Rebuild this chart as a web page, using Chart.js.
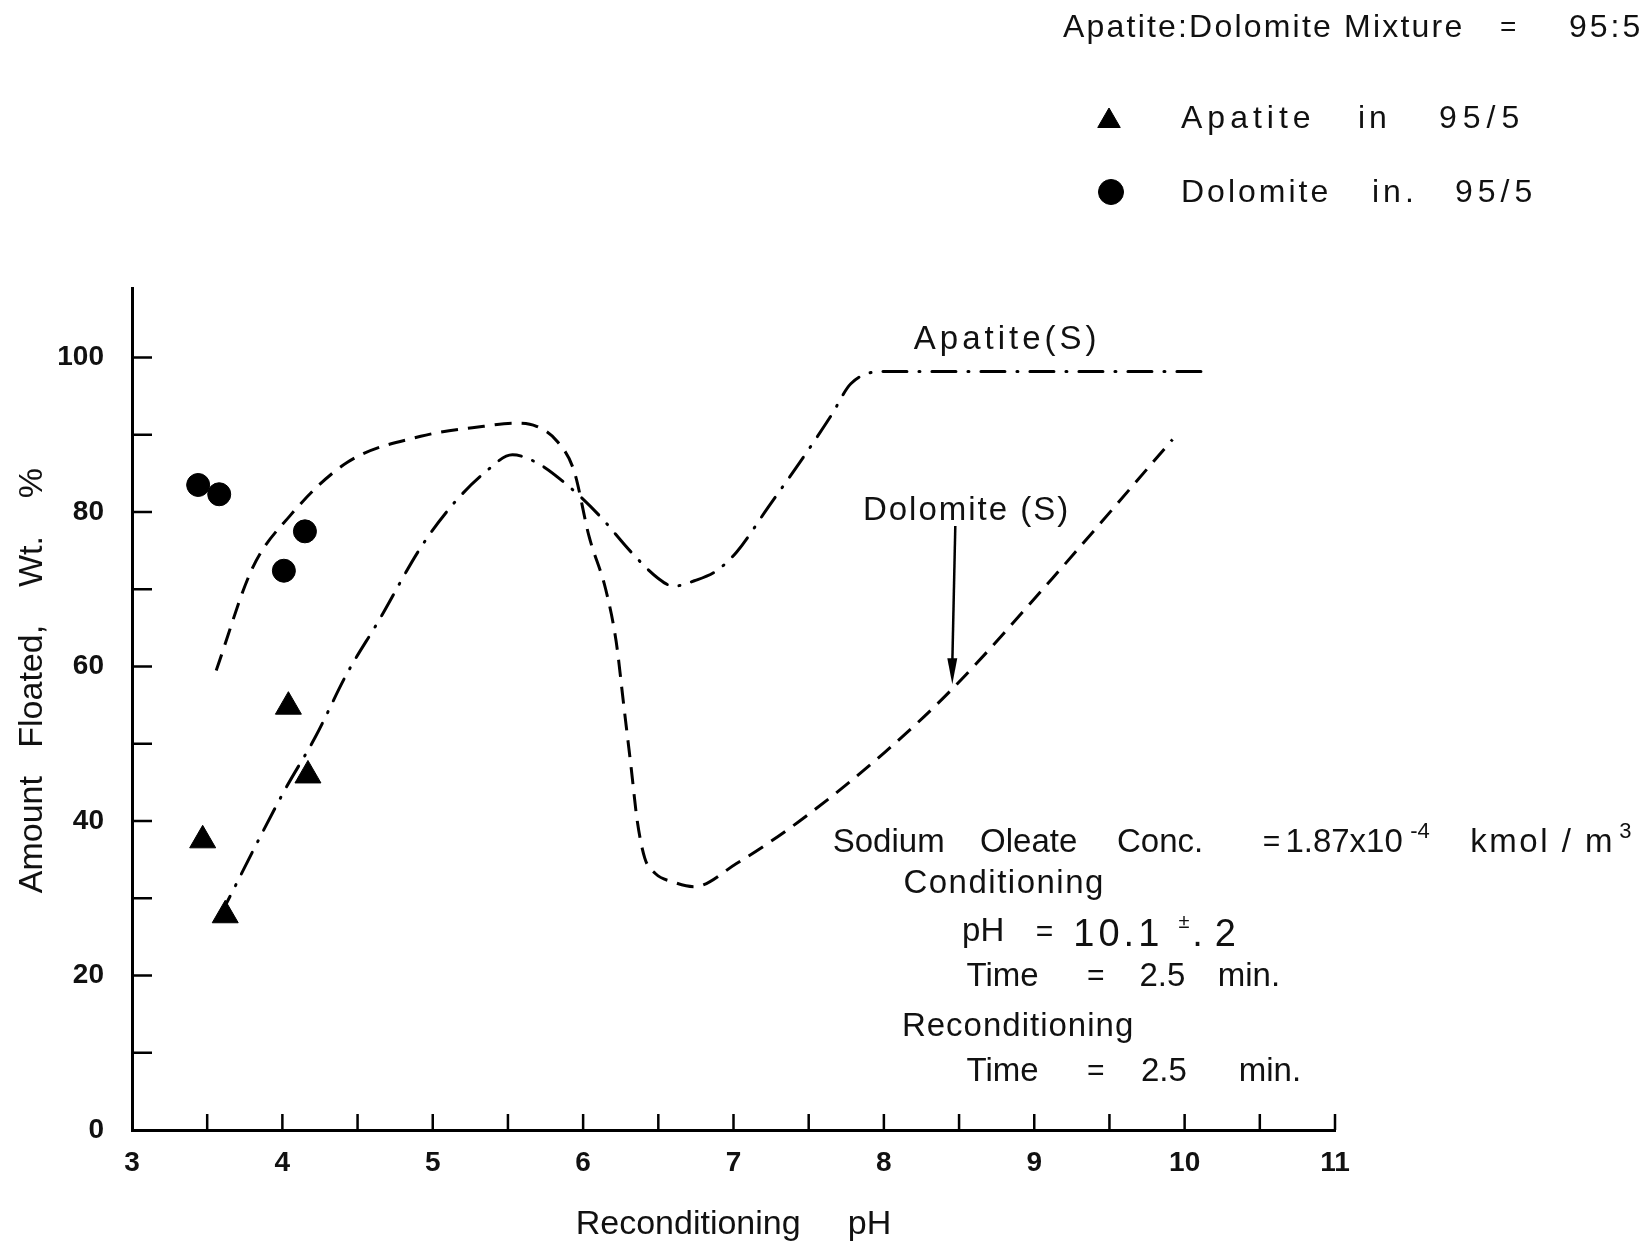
<!DOCTYPE html>
<html lang="en">
<head>
<meta charset="UTF-8">
<title>Amount floated vs reconditioning pH - Apatite:Dolomite 95:5</title>
<style>
  html, body { margin: 0; padding: 0; background: #fff; }
  #wrap { width: 1651px; height: 1245px; }
</style>
</head>
<body>
<div id="wrap"><canvas id="myChart" width="1651" height="1245" role="img" aria-label="Amount floated versus reconditioning pH"></canvas></div>

<script src="https://cdn.jsdelivr.net/npm/chart.js@4.4.1/dist/chart.umd.min.js"></script>
<script>
    // --- data ---
    var apatiteMixPH   = [3.47, 3.62, 4.04, 4.17];
    var apatiteMixPct  = [37.5, 27.8, 54.8, 45.9];
    var dolomiteMixPH  = [3.44, 3.58, 4.01, 4.15];
    var dolomiteMixPct = [83.5, 82.3, 72.4, 77.5];

    var apatiteSinglePH  = [3.58, 4.01, 4.22, 4.43, 4.64, 4.92, 5.13, 5.34, 5.53, 5.69, 5.90, 6.11, 6.32, 6.50, 6.60, 6.74, 6.88, 7.02, 7.23, 7.44, 7.65, 7.78, 8.00, 10.12];
    var apatiteSinglePct = [27.5, 43.8, 50.9, 59.1, 65.9, 75.4, 80.9, 85.0, 87.4, 86.4, 83.4, 79.5, 74.8, 71.4, 70.4, 71.1, 72.3, 74.8, 80.6, 86.4, 92.5, 96.6, 98.2, 98.2];

    var dolomiteSinglePH  = [3.56, 3.80, 4.05, 4.43, 4.92, 5.34, 5.55, 5.69, 5.83, 5.94, 6.04, 6.15, 6.22, 6.27, 6.32, 6.36, 6.41, 6.48, 6.60, 6.74, 7.02, 7.44, 8.00, 8.45, 9.12, 9.92];
    var dolomiteSinglePct = [59.5, 72.7, 79.5, 86.4, 89.8, 91.1, 91.5, 91.1, 89.1, 85.3, 76.8, 70.0, 63.2, 55.0, 46.8, 40.0, 35.2, 33.2, 32.1, 31.5, 34.5, 40.0, 48.8, 57.0, 71.4, 89.4];

    var xTickLabels = [3, 4, 5, 6, 7, 8, 9, 10, 11];
    var yTickLabels = [0, 20, 40, 60, 80, 100];

    function pts(xs, ys) {
        return xs.map(function (x, i) { return { x: x, y: ys[i] }; });
    }

    var FONT = '"Liberation Sans", Arial, sans-serif';
    var INK = '#111';

    // in-plot notes, positioned in data units
    var plotNotes = [
        { t: 'Apatite(S)', x: 8.82, y: 102.3, size: 33, sp: 4, align: 'center' },
        { t: 'Dolomite (S)', x: 8.55, y: 80.2, size: 33, sp: 2, align: 'center' },
        { t: 'Sodium', x: 7.66, y: 37.2, size: 33 },
        { t: 'Oleate', x: 8.64, y: 37.2, size: 33 },
        { t: 'Conc.', x: 9.55, y: 37.2, size: 33 },
        { t: '=', x: 10.52, y: 37.2, size: 30 },
        { t: '1.87x10', x: 10.67, y: 37.2, size: 33 },
        { t: '-4', x: 11.50, y: 38.6, size: 22 },
        { t: 'kmol / m', x: 11.90, y: 37.2, size: 33, sp: 2.5 },
        { t: '3', x: 12.89, y: 38.6, size: 22 },
        { t: 'Conditioning', x: 8.13, y: 31.8, size: 33, sp: 1.5 },
        { t: 'pH', x: 8.52, y: 25.6, size: 33 },
        { t: '=', x: 9.01, y: 25.6, size: 30 },
        { t: '10.1', x: 9.26, y: 25.2, size: 38, sp: 4 },
        { t: '\u00b1', x: 9.96, y: 26.8, size: 20 },
        { t: '.2', x: 10.05, y: 25.2, size: 38, sp: 12 },
        { t: 'Time', x: 8.55, y: 19.8, size: 33 },
        { t: '=', x: 9.35, y: 19.8, size: 30 },
        { t: '2.5', x: 9.70, y: 19.8, size: 33 },
        { t: 'min.', x: 10.22, y: 19.8, size: 33 },
        { t: 'Reconditioning', x: 8.12, y: 13.4, size: 33, sp: 1 },
        { t: 'Time', x: 8.55, y: 7.5, size: 33 },
        { t: '=', x: 9.35, y: 7.5, size: 30 },
        { t: '2.5', x: 9.71, y: 7.5, size: 33 },
        { t: 'min.', x: 10.36, y: 7.5, size: 33 }
    ];

    // header / key, positioned in page pixels
    var keyNotes = [
        { t: 'Apatite:Dolomite Mixture', x: 1063, y: 28, size: 32, sp: 2.2 },
        { t: '=', x: 1500, y: 28, size: 28 },
        { t: '95:5', x: 1569, y: 28, size: 32, sp: 3 },
        { t: 'Apatite', x: 1181, y: 119, size: 32, sp: 5 },
        { t: 'in', x: 1358, y: 119, size: 32, sp: 4 },
        { t: '95/5', x: 1439, y: 119, size: 32, sp: 6 },
        { t: 'Dolomite', x: 1181, y: 193, size: 32, sp: 3 },
        { t: 'in.', x: 1372, y: 193, size: 32, sp: 4 },
        { t: '95/5', x: 1455, y: 193, size: 32, sp: 5 }
    ];
    var keyMarkers = [
        { ds: 0, x: 1109, y: 121, r: 13 },
        { ds: 1, x: 1111, y: 192, r: 12.5 }
    ];

    function drawText(ctx, n, x, y) {
        ctx.save();
        ctx.font = (n.weight || 'normal') + ' ' + n.size + 'px ' + FONT;
        ctx.letterSpacing = (n.sp || 0) + 'px';
        ctx.textAlign = n.align || 'left';
        ctx.textBaseline = 'middle';
        ctx.fillStyle = INK;
        ctx.fillText(n.t, x, y);
        ctx.restore();
    }

    var figurePlugin = {
        id: 'figure',
        afterDraw: function (chart) {
            var ctx = chart.ctx, xs = chart.scales.x, ys = chart.scales.y, a = chart.chartArea;

            // inward tick marks
            ctx.save();
            ctx.strokeStyle = '#000';
            ctx.lineWidth = 2.5;
            ctx.beginPath();
            xs.ticks.forEach(function (t) {
                if (t.value <= xs.min) return;
                var px = xs.getPixelForValue(t.value);
                ctx.moveTo(px, a.bottom);
                ctx.lineTo(px, a.bottom - 16);
            });
            ys.ticks.forEach(function (t) {
                if (t.value <= ys.min) return;
                var py = ys.getPixelForValue(t.value);
                ctx.moveTo(a.left, py);
                ctx.lineTo(a.left + 20, py);
            });
            ctx.stroke();

            // arrow from "Dolomite (S)" down to its curve
            var x0 = xs.getPixelForValue(8.475), y0 = ys.getPixelForValue(78.2);
            var x1 = xs.getPixelForValue(8.455), y1 = ys.getPixelForValue(57.7);
            ctx.lineWidth = 2.5;
            ctx.beginPath();
            ctx.moveTo(x0, y0);
            ctx.lineTo(x1, y1 - 20);
            ctx.stroke();
            ctx.fillStyle = '#000';
            ctx.beginPath();
            ctx.moveTo(x1, y1);
            ctx.lineTo(x1 - 5, y1 - 26);
            ctx.lineTo(x1 + 5, y1 - 26);
            ctx.closePath();
            ctx.fill();
            ctx.restore();

            plotNotes.forEach(function (n) {
                drawText(ctx, n, xs.getPixelForValue(n.x), ys.getPixelForValue(n.y));
            });
            keyNotes.forEach(function (n) { drawText(ctx, n, n.x, n.y); });

            // key markers use the dataset point styles
            keyMarkers.forEach(function (m) {
                var ds = chart.data.datasets[m.ds];
                ctx.save();
                ctx.fillStyle = ds.backgroundColor;
                ctx.strokeStyle = ds.borderColor;
                ctx.lineWidth = 1;
                Chart.helpers.drawPoint(ctx, { pointStyle: ds.pointStyle, radius: m.r, rotation: 0, borderWidth: 1 }, m.x, m.y);
                ctx.restore();
            });
        }
    };

    function createChart() {
        var ctx = document.getElementById('myChart').getContext('2d');
        new Chart(ctx, {
            type: 'scatter',
            data: {
                datasets: [
                    {
                        label: 'Apatite in 95/5',
                        data: pts(apatiteMixPH, apatiteMixPct),
                        pointStyle: 'triangle',
                        pointRadius: 15,
                        backgroundColor: '#000',
                        borderColor: '#000',
                        borderWidth: 1
                    },
                    {
                        label: 'Dolomite in 95/5',
                        data: pts(dolomiteMixPH, dolomiteMixPct),
                        pointStyle: 'circle',
                        pointRadius: 11.5,
                        backgroundColor: '#000',
                        borderColor: '#000',
                        borderWidth: 1
                    },
                    {
                        label: 'Apatite(S)',
                        data: pts(apatiteSinglePH, apatiteSinglePct),
                        showLine: true,
                        pointRadius: 0,
                        borderColor: '#000',
                        borderWidth: 3,
                        borderDash: [24, 12, 1, 12],
                        borderCapStyle: 'round',
                        cubicInterpolationMode: 'monotone'
                    },
                    {
                        label: 'Dolomite(S)',
                        data: pts(dolomiteSinglePH, dolomiteSinglePct),
                        showLine: true,
                        pointRadius: 0,
                        borderColor: '#000',
                        borderWidth: 3,
                        borderDash: [17, 10],
                        cubicInterpolationMode: 'monotone'
                    }
                ]
            },
            options: {
                responsive: false,
                animation: false,
                layout: { padding: { top: 288, right: 316, left: 0, bottom: 0 } },
                plugins: { legend: { display: false }, tooltip: { enabled: false } },
                scales: {
                    x: {
                        type: 'linear',
                        min: 3,
                        max: 11,
                        grid: { display: false },
                        border: { display: true, color: '#000', width: 3 },
                        ticks: {
                            stepSize: 0.5,
                            includeBounds: false,
                            padding: 8,
                            color: INK,
                            font: { family: FONT, size: 28, weight: 'bold' },
                            maxRotation: 0,
                            autoSkip: false,
                            callback: function (v) { return xTickLabels.indexOf(v) >= 0 ? String(v) : ''; }
                        },
                        title: {
                            display: true,
                            text: 'Reconditioning     pH',
                            color: INK,
                            font: { family: FONT, size: 34 },
                            padding: { top: 0, bottom: 0 }
                        },
                        afterFit: function (s) { s.height = 115; }
                    },
                    y: {
                        type: 'linear',
                        min: 0,
                        max: 109,
                        grid: { display: false },
                        border: { display: true, color: '#000', width: 3 },
                        ticks: {
                            stepSize: 10,
                            includeBounds: false,
                            padding: 20,
                            color: INK,
                            font: { family: FONT, size: 28, weight: 'bold' },
                            autoSkip: false,
                            callback: function (v) { return yTickLabels.indexOf(v) >= 0 ? String(v) : ''; }
                        },
                        title: {
                            display: true,
                            text: '      Amount   Floated,    Wt.    %',
                            color: INK,
                            font: { family: FONT, size: 34 },
                            padding: { top: 12, bottom: 0 }
                        },
                        afterFit: function (s) { s.width = 132; }
                    }
                }
            },
            plugins: [figurePlugin]
        });
    }

    document.addEventListener('DOMContentLoaded', function () {
        createChart();
    });
</script>
</body>
</html>
